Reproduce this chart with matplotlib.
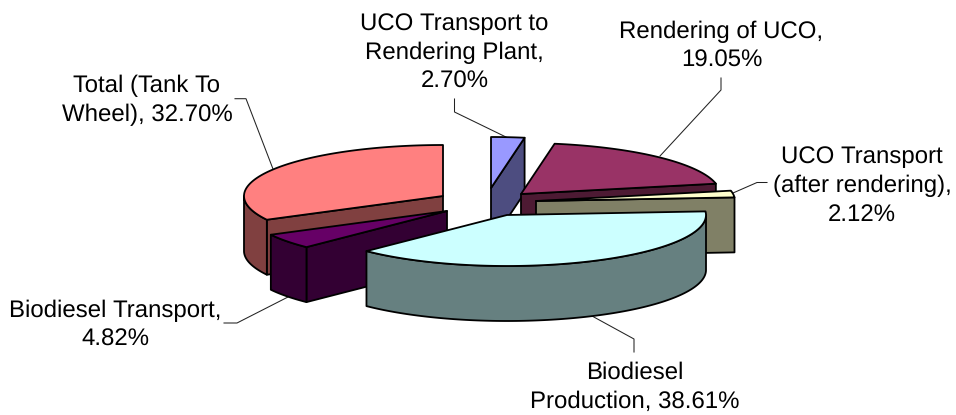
import numpy as np
import matplotlib
matplotlib.use("Agg")
import matplotlib.pyplot as plt

categories = ["UCO Transport to\nRendering Plant,", "Rendering of UCO,", "UCO Transport\n(after rendering),",
              "Biodiesel\nProduction,", "Biodiesel Transport,", "Total (Tank To\nWheel),"]
shares = [2.70, 19.05, 2.12, 38.61, 4.82, 32.70]
share_text = ["2.70%", "19.05%", "2.12%", "38.61%", "4.82%", "32.70%"]
top_colors = ["#9999FF", "#993366", "#FFFFCC", "#CCFFFF", "#660066", "#FF8080"]
side_colors = ["#4D4D80", "#4D1A33", "#808066", "#668080", "#330033", "#804040"]

# Layout (pixels): exploded slice apexes, ellipse radii, extrusion depth
apex = [(491, 188), (521, 194), (536, 201), (507, 215), (447, 211), (443, 196)]
RX, RY, DEPTH = 199, 51, 55
label_xy = [(454.5, 88), (721.5, 67), (862, 220.5), (635, 408), (115, 345.5), (147, 121)]
leaders = [[(454.5, 99), (454.5, 112), (508, 138)],
           [(721, 78), (721, 90), (660, 156)],
           [(767, 182.5), (757, 182.5), (733, 193)],
           [(634, 352), (634, 339), (592, 316)],
           [(224, 323), (237, 323), (288, 297)],
           [(235, 98.7), (246, 98.7), (273, 169)]]
draw_order = [5, 0, 1, 2, 4, 3]

plt.rcParams["font.family"] = ["Liberation Sans", "DejaVu Sans"]
plt.rcParams["text.hinting"] = "none"
plt.rcParams["text.hinting_factor"] = 1
fig = plt.figure(figsize=(9.56, 4.15), dpi=100)
ax = fig.add_axes([0, 0, 1, 1])
ax.set_xlim(0, 956)
ax.set_ylim(415, 0)
ax.axis("off")

cum = np.concatenate([[0], np.cumsum(shares)])
total = cum[-1]
starts = 90 - 360 * cum[:-1] / total
ends = 90 - 360 * cum[1:] / total


def rim(c, a0, a1, n=120):
    t = np.radians(np.linspace(a0, a1, n))
    return c[0] + RX * np.cos(t), c[1] - RY * np.sin(t)


def face(xs, ys, color, z):
    ax.fill(xs, ys, facecolor=color, edgecolor="black", lw=1.3, joinstyle="round", zorder=z)


z = 2
for i in draw_order:
    c, a0, a1 = apex[i], starts[i], ends[i]
    for a, visible in ((a0, np.cos(np.radians(a0)) < 0), (a1, np.cos(np.radians(a1)) > 0)):
        if visible:
            ex, ey = rim(c, a, a, 1)
            xs = [c[0], ex[0], ex[0], c[0]]
            ys = [c[1], ey[0], ey[0] + DEPTH, c[1] + DEPTH]
            face(xs, ys, side_colors[i], z)
            z += 1
    f0, f1 = min(a0, 0), max(a1, -180)
    if f0 > f1:
        rx, ry = rim(c, f0, f1)
        face(np.r_[rx, rx[::-1]], np.r_[ry, ry[::-1] + DEPTH], side_colors[i], z)
        z += 1
    rx, ry = rim(c, a0, a1)
    face(np.r_[c[0], rx], np.r_[c[1], ry], top_colors[i], z)
    z += 1

for i, name in enumerate(categories):
    pts = np.array(leaders[i])
    ax.plot(pts[:, 0], pts[:, 1], color="#222222", lw=0.75, zorder=1)
    sep = " " if i in (3, 5) else "\n"
    ax.text(label_xy[i][0], label_xy[i][1], name + sep + share_text[i], ha="center", va="baseline",
            multialignment="center", fontsize=17.25, linespacing=1.37, color="black", zorder=50)

fig.savefig("out.png", dpi=100)
